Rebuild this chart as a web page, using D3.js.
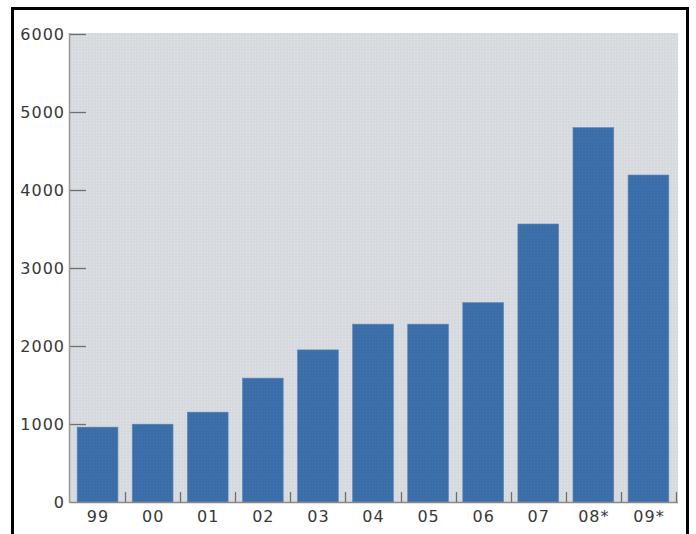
<!DOCTYPE html>
<html lang="en">
<head>
  <meta charset="UTF-8">
  <title>Bar chart 99-09</title>
  <script src="https://cdn.jsdelivr.net/npm/d3@7"></script>
  <style>
    html, body { margin: 0; padding: 0; background: #fff; overflow: hidden; }
    svg { display: block; }
    text { font-family: "DejaVu Sans", sans-serif; font-size: 16px; letter-spacing: 1px; fill: #383838; }
  </style>
</head>
<body>
  <script>
    // ------------- Data -------------
    const years = ["99", "00", "01", "02", "03", "04", "05", "06", "07", "08*", "09*"];
    const values = [960, 998, 1152, 1588, 1950, 2280, 2280, 2556, 3564, 4800, 4192];
    const yTicks = [0, 1000, 2000, 3000, 4000, 5000, 6000];

    const width = 696, height = 534;
    const plot = { left: 70, right: 676, top: 34, bottom: 502 };

    const svg = d3.select("body").append("svg")
      .attr("width", width)
      .attr("height", height);

    // ------------- Textures -------------
    const defs = svg.append("defs");
    const bgPat = defs.append("pattern")
      .attr("id", "bg-dots")
      .attr("width", 3).attr("height", 3)
      .attr("patternUnits", "userSpaceOnUse");
    bgPat.append("rect").attr("width", 3).attr("height", 3).attr("fill", "#d6d9dd");
    bgPat.append("rect").attr("width", 1).attr("height", 1).attr("fill", "#e3e5e8");

    const barPat = defs.append("pattern")
      .attr("id", "bar-dots")
      .attr("width", 3).attr("height", 3)
      .attr("patternUnits", "userSpaceOnUse");
    barPat.append("rect").attr("width", 3).attr("height", 3).attr("fill", "#3b6ea8");
    barPat.append("rect").attr("width", 1).attr("height", 1).attr("fill", "#4576ae");

    // ------------- Scales -------------
    const x = d3.scaleBand()
      .domain(years)
      .range([plot.left, plot.right])
      .paddingInner(0.26)
      .paddingOuter(0.13);

    const y = d3.scaleLinear()
      .domain([0, 6000])
      .range([plot.bottom, plot.top]);

    // ------------- Plot background -------------
    svg.append("rect")
      .attr("x", plot.left)
      .attr("y", plot.top - 1)
      .attr("width", plot.right - plot.left + 2)
      .attr("height", plot.bottom - plot.top + 1)
      .attr("fill", "url(#bg-dots)");

    // ------------- Bars -------------
    svg.append("g").selectAll("rect")
      .data(years)
      .join("rect")
        .attr("x", d => x(d))
        .attr("y", (d, i) => y(values[i]))
        .attr("width", x.bandwidth())
        .attr("height", (d, i) => y(0) - y(values[i]))
        .attr("fill", "url(#bar-dots)")
        .attr("stroke", "#5d87b6")
        .attr("stroke-width", 0.6);

    // ------------- Axes lines -------------
    svg.append("line")
      .attr("x1", plot.left - 0.5).attr("x2", plot.left - 0.5)
      .attr("y1", plot.top - 1).attr("y2", plot.bottom + 0.5)
      .attr("stroke", "#999").attr("stroke-width", 1.5);
    svg.append("line")
      .attr("x1", plot.left - 0.5).attr("x2", plot.right + 2)
      .attr("y1", plot.bottom + 0.5).attr("y2", plot.bottom + 0.5)
      .attr("stroke", "#888").attr("stroke-width", 1.5);

    // y ticks and labels
    const yg = svg.append("g");
    yg.selectAll("line")
      .data(yTicks.filter(t => t > 0))
      .join("line")
        .attr("x1", plot.left).attr("x2", plot.left + 16)
        .attr("y1", d => Math.round(y(d)) + 0.5)
        .attr("y2", d => Math.round(y(d)) + 0.5)
        .attr("stroke", "#6f6f6f").attr("stroke-width", 1.3);
    yg.selectAll("text")
      .data(yTicks)
      .join("text")
        .attr("x", plot.left - 5)
        .attr("y", d => y(d))
        .attr("dy", "0.36em")
        .attr("text-anchor", "end")
        .text(d => d);

    // x ticks (between bars) and labels
    const step = x.step();
    const xg = svg.append("g");
    xg.selectAll("line")
      .data(years)
      .join("line")
        .attr("x1", d => Math.round(x(d) + x.bandwidth() + step * 0.13) + 0.5)
        .attr("x2", d => Math.round(x(d) + x.bandwidth() + step * 0.13) + 0.5)
        .attr("y1", plot.bottom - 10)
        .attr("y2", plot.bottom)
        .attr("stroke", "#6f6f6f").attr("stroke-width", 1.3);
    xg.selectAll("text")
      .data(years)
      .join("text")
        .attr("x", d => x(d) + x.bandwidth() / 2 + 0.5)
        .attr("y", plot.bottom + 20)
        .attr("text-anchor", "middle")
        .text(d => d);

    // ------------- Outer frame -------------
    svg.append("rect")
      .attr("x", 12.5)
      .attr("y", 8.5)
      .attr("width", 675)
      .attr("height", 560)
      .attr("fill", "none")
      .attr("stroke", "#000")
      .attr("stroke-width", 3);
  </script>
</body>
</html>
